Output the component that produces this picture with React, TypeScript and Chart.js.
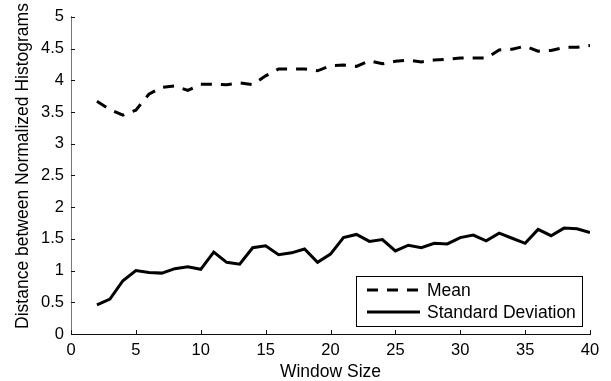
import React, { useEffect, useRef } from "react";
import { Chart, registerables } from "chart.js";

Chart.register(...registerables);

// Window sizes evaluated
const windowSizes = [
  2, 3, 4, 5, 6, 7, 8, 9, 10, 11, 12, 13, 14, 15, 16, 17, 18, 19, 20, 21,
  22, 23, 24, 25, 26, 27, 28, 29, 30, 31, 32, 33, 34, 35, 36, 37, 38, 39, 40,
];

// Mean distance between normalized histograms
const meanValues = [
  3.67, 3.54, 3.45, 3.53, 3.78, 3.89, 3.91, 3.84, 3.94, 3.94, 3.93, 3.96,
  3.93, 4.07, 4.18, 4.18, 4.18, 4.15, 4.23, 4.24, 4.22, 4.31, 4.26, 4.3,
  4.32, 4.29, 4.32, 4.33, 4.35, 4.35, 4.35, 4.48, 4.49, 4.54, 4.46, 4.47,
  4.52, 4.52, 4.55,
];

// Standard deviation of the distance
const stdValues = [
  0.46, 0.55, 0.84, 1.0, 0.97, 0.96, 1.03, 1.06, 1.02, 1.29, 1.13, 1.1,
  1.36, 1.39, 1.25, 1.28, 1.34, 1.13, 1.26, 1.52, 1.57, 1.46, 1.49, 1.31,
  1.4, 1.36, 1.43, 1.42, 1.52, 1.56, 1.47, 1.59, 1.51, 1.43, 1.65, 1.55,
  1.67, 1.66, 1.6,
];

const xTicks = [0, 5, 10, 15, 20, 25, 30, 35, 40];
const yTicks = [0, 0.5, 1, 1.5, 2, 2.5, 3, 3.5, 4, 4.5, 5];

const xTitle = "Window Size";
const yTitle = "Distance between Normalized Histograms";
const legendLabels = ["Mean", "Standard Deviation"];

const FONT = "'Liberation Sans', Arial, Helvetica, sans-serif";
const MEAN_DASH = [11, 9];

// Inward tick marks, axis titles and the boxed legend in the lower right
const decorations = {
  id: "decorations",
  afterDraw(chart: any) {
    const { ctx, chartArea, scales } = chart;
    const xs = scales.x;
    const ys = scales.y;
    ctx.save();

    // inward ticks
    ctx.strokeStyle = "#111";
    ctx.lineWidth = 1;
    const tl = 4;
    xTicks.forEach((v) => {
      const px = Math.round(xs.getPixelForValue(v)) + 0.5;
      ctx.beginPath();
      ctx.moveTo(px, chartArea.bottom);
      ctx.lineTo(px, chartArea.bottom - tl);
      ctx.stroke();
    });
    yTicks.forEach((v) => {
      const py = Math.round(ys.getPixelForValue(v)) + 0.5;
      ctx.beginPath();
      ctx.moveTo(chartArea.left, py);
      ctx.lineTo(chartArea.left + tl, py);
      ctx.stroke();
    });

    // axis titles
    ctx.fillStyle = "#000";
    ctx.font = `17.5px ${FONT}`;
    ctx.textAlign = "center";
    ctx.textBaseline = "middle";
    ctx.fillText(xTitle, (chartArea.left + chartArea.right) / 2, 372);

    ctx.save();
    ctx.translate(27.5, 166);
    ctx.rotate(-Math.PI / 2);
    ctx.textBaseline = "alphabetic";
    ctx.fillText(yTitle, 0, 0);
    ctx.restore();

    // legend box
    const bw = 226;
    const bh = 50;
    const bx = chartArea.right - 8 - bw;
    const by = chartArea.bottom - 8 - bh;
    ctx.fillStyle = "#fff";
    ctx.fillRect(bx, by, bw, bh);
    ctx.strokeStyle = "#000";
    ctx.lineWidth = 1;
    ctx.strokeRect(Math.round(bx) + 0.5, Math.round(by) + 0.5, bw, bh);

    const rows = [by + 14, by + 36];
    const styles = [MEAN_DASH, []];
    rows.forEach((ry, i) => {
      ctx.beginPath();
      ctx.setLineDash(styles[i]);
      ctx.lineWidth = 3;
      ctx.moveTo(bx + 11, ry);
      ctx.lineTo(bx + 64, ry);
      ctx.stroke();
      ctx.setLineDash([]);
      ctx.fillStyle = "#000";
      ctx.font = `17.5px ${FONT}`;
      ctx.textAlign = "left";
      ctx.textBaseline = "middle";
      ctx.fillText(legendLabels[i], bx + 71, ry + 1);
    });

    ctx.restore();
  },
};

export default function App() {
  const canvasRef = useRef<HTMLCanvasElement | null>(null);

  useEffect(() => {
    if (!canvasRef.current) return;
    const chart = new Chart(canvasRef.current, {
      type: "line",
      data: {
        datasets: [
          {
            label: legendLabels[0],
            data: windowSizes.map((x, i) => ({ x, y: meanValues[i] })),
            borderColor: "#000",
            borderWidth: 3,
            borderDash: MEAN_DASH,
            pointRadius: 0,
            tension: 0,
            fill: false,
          },
          {
            label: legendLabels[1],
            data: windowSizes.map((x, i) => ({ x, y: stdValues[i] })),
            borderColor: "#000",
            borderWidth: 3,
            pointRadius: 0,
            tension: 0,
            fill: false,
          },
        ],
      },
      options: {
        animation: false,
        responsive: false,
        maintainAspectRatio: false,
        layout: { padding: { top: 14, right: 21, left: 0, bottom: 0 } },
        plugins: {
          legend: { display: false },
          tooltip: { enabled: false },
        },
        scales: {
          x: {
            type: "linear",
            min: 0,
            max: 40,
            afterBuildTicks: (s: any) => {
              s.ticks = xTicks.map((value) => ({ value }));
            },
            afterFit: (s: any) => {
              s.height = 47;
            },
            grid: { display: false, drawTicks: false },
            border: { display: true, color: "#111", width: 1 },
            ticks: {
              color: "#000",
              font: { family: FONT, size: 16.5 },
              padding: 7,
              maxRotation: 0,
              autoSkip: false,
              callback: (v: any) => String(v),
            },
          },
          y: {
            type: "linear",
            min: 0,
            max: 5,
            afterBuildTicks: (s: any) => {
              s.ticks = yTicks.map((value) => ({ value }));
            },
            afterFit: (s: any) => {
              s.width = 71;
            },
            grid: { display: false, drawTicks: false },
            border: { display: true, color: "#777", width: 1 },
            ticks: {
              color: "#000",
              font: { family: FONT, size: 16.5 },
              padding: 7,
              autoSkip: false,
              callback: (v: any) => String(v),
            },
          },
        },
      },
      plugins: [decorations],
    });
    return () => chart.destroy();
  }, []);

  return (
    <div style={{ position: "fixed", left: 0, top: 0, width: 611, height: 381, background: "#fff" }}>
      <canvas ref={canvasRef} width={611} height={381} />
    </div>
  );
}
